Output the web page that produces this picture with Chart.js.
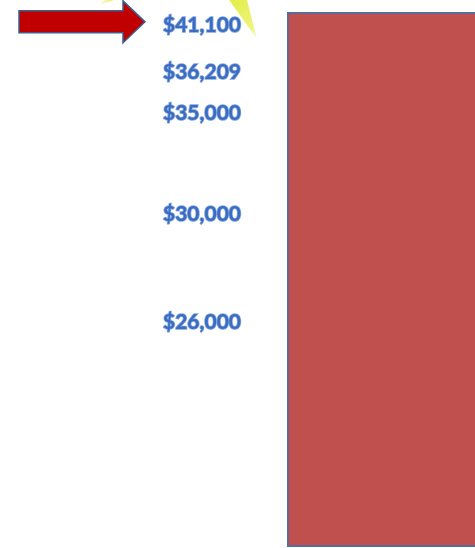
<!DOCTYPE html>
<html>
<head>
<meta charset="utf-8">
<script src="https://cdn.jsdelivr.net/npm/chart.js@4/dist/chart.umd.min.js"></script>
<style>
  html, body { margin: 0; padding: 0; background: #ffffff; overflow: hidden; }
  #wrap { width: 475px; height: 548px; position: relative; }
</style>
</head>
<body>
<div id="wrap"><canvas id="c" width="475" height="548"></canvas></div>
<script>
// ---- data ----
const categories = ['Cost'];
const barValues = [100];                 // bar fills the full axis height
const tickLabels = ['$41,100', '$36,209', '$35,000', '$30,000', '$26,000'];
const tickLevels = [97.6, 88.8, 81.1, 62.2, 42.1];   // where each label sits on the axis

// decorative arrow + light bursts (not data)
const decorations = {
  id: 'decorations',
  beforeDraw(chart) {
    const ctx = chart.ctx;
    ctx.save();
    let g = ctx.createLinearGradient(238, 0, 256, 40);
    g.addColorStop(0, '#E4EE4E');
    g.addColorStop(0.7, '#EEF47E');
    g.addColorStop(1, 'rgba(245,248,190,0.6)');
    ctx.fillStyle = g;
    ctx.beginPath();
    ctx.moveTo(229, 0); ctx.lineTo(247, 0); ctx.lineTo(257, 39); ctx.closePath();
    ctx.fill();
    g = ctx.createLinearGradient(112, 0, 100, 4);
    g.addColorStop(0, '#E8EE60');
    g.addColorStop(1, 'rgba(245,248,200,0.5)');
    ctx.fillStyle = g;
    ctx.beginPath();
    ctx.moveTo(104, 0); ctx.lineTo(114, 0); ctx.lineTo(99, 5); ctx.closePath();
    ctx.fill();
    ctx.restore();
  },
  afterDraw(chart) {
    const ctx = chart.ctx;
    const y = chart.scales.y.getPixelForValue(tickLevels[0]) - 3;
    ctx.save();
    ctx.beginPath();
    ctx.moveTo(19, y - 11);
    ctx.lineTo(123, y - 11);
    ctx.lineTo(123, y - 21);
    ctx.lineTo(145, y);
    ctx.lineTo(123, y + 21);
    ctx.lineTo(123, y + 11);
    ctx.lineTo(19, y + 11);
    ctx.closePath();
    ctx.fillStyle = '#C00000';
    ctx.fill();
    ctx.lineWidth = 1.5;
    ctx.strokeStyle = '#3E5E8E';
    ctx.stroke();
    ctx.restore();
  }
};

new Chart(document.getElementById('c'), {
  type: 'bar',
  data: {
    labels: categories,
    datasets: [{
      data: barValues,
      backgroundColor: '#C0504D',
      borderColor: '#4A70A8',
      borderWidth: { left: 2, top: 2, bottom: 2, right: 0 },
      borderSkipped: false,
      barPercentage: 1,
      categoryPercentage: 1
    }]
  },
  options: {
    responsive: false,
    animation: false,
    devicePixelRatio: 1,
    layout: { padding: { top: 12, bottom: 1, left: 0, right: 0 } },
    plugins: { legend: { display: false }, tooltip: { enabled: false } },
    scales: {
      x: { display: false },
      y: {
        min: 0, max: 100,
        grid: { display: false, drawTicks: false },
        border: { display: false },
        afterFit(s) { s.width = 287; s.paddingTop = 0; s.paddingBottom = 0; },
        afterBuildTicks(s) { s.ticks = tickLevels.map(v => ({ value: v })); },
        ticks: {
          autoSkip: false,
          padding: 46,
          color: '#3A6CC2',
          textStrokeColor: '#86A6DE',
          textStrokeWidth: 1.6,
          font: { family: 'Lato', weight: 'bold', size: 21 },
          callback: (v, i) => tickLabels[i]
        }
      }
    }
  },
  plugins: [decorations]
});
</script>
</body>
</html>
